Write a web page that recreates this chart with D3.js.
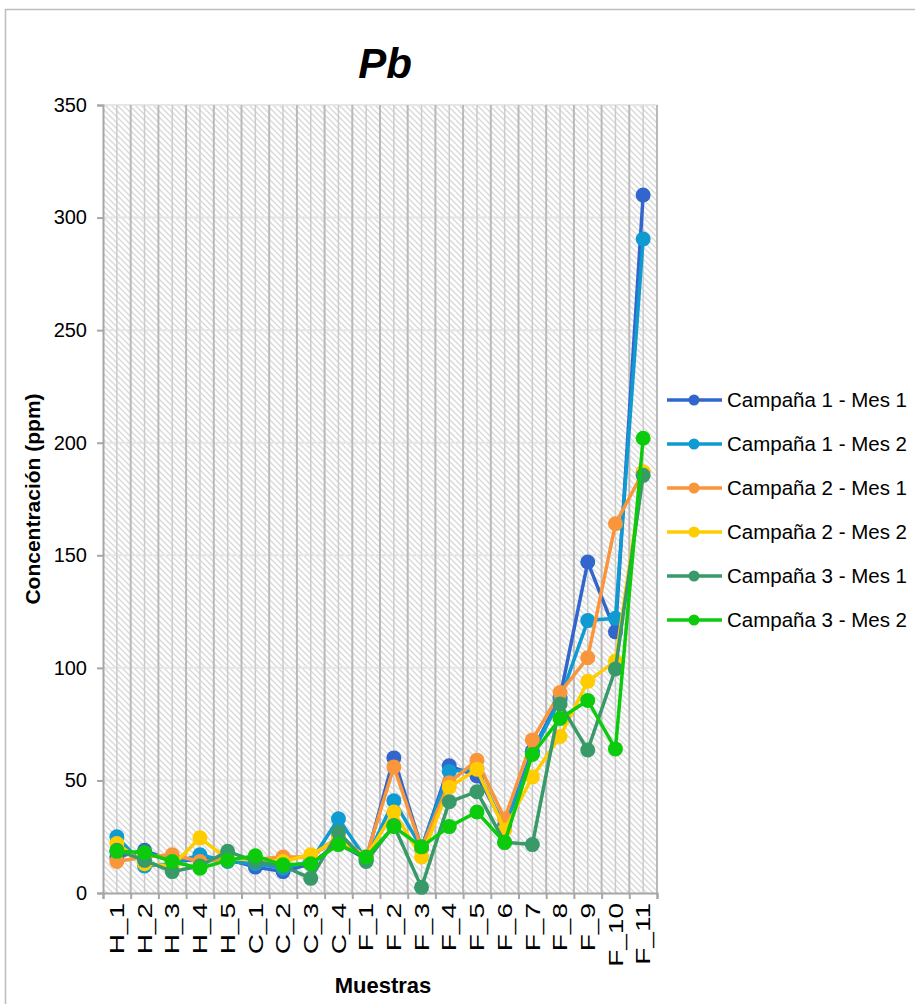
<!DOCTYPE html>
<html>
<head>
<meta charset="utf-8">
<script src="https://cdn.jsdelivr.net/npm/d3@7"></script>
<style>
  html, body { margin: 0; padding: 0; background: #fff; }
  svg { display: block; font-family: Arial, "Liberation Sans", sans-serif; }
</style>
</head>
<body>
<svg id="chart" width="915" height="1004"></svg>
<script>
// Sample sites along the x axis
const categories = ["H_1","H_2","H_3","H_4","H_5","C_1","C_2","C_3","C_4",
  "F_1","F_2","F_3","F_4","F_5","F_6","F_7","F_8","F_9","F_10","F_11"];

// Pb concentration (ppm) per campaign and month
const campana1Mes1 = [16, 19, 14, 15, 15, 11.5, 9.5, 13, 22, 15, 60, 20, 56.5, 52, 30, 63, 87, 147, 116, 310];
const campana1Mes2 = [25, 12, 13, 17, 14, 13, 11, 14, 33, 15, 41, 20, 54, 55, 29, 62, 86, 121, 122, 290.5];
const campana2Mes1 = [14, 16, 17, 14, 15, 15, 16, 16, 25, 16, 56, 20, 49, 59, 33, 68, 89, 104.5, 164, 187];
const campana2Mes2 = [22, 13, 12, 24.5, 15, 15, 14, 17, 24, 16, 36, 16, 47, 55, 28, 51.5, 69.5, 94, 103, 187];
const campana3Mes1 = [19, 14.5, 9.5, 12, 18.5, 14, 12, 6.5, 27, 14, 30, 2.5, 40.5, 45, 22.5, 21.5, 84, 63.5, 99.5, 185.5];
const campana3Mes2 = [18.5, 18, 14, 11, 14.5, 16.5, 12.5, 13, 21.5, 16, 29.5, 20.5, 29.5, 36, 22.5, 61.5, 77.5, 85.5, 64, 202];

const seriesNames = ["Campaña 1 - Mes 1","Campaña 1 - Mes 2","Campaña 2 - Mes 1",
  "Campaña 2 - Mes 2","Campaña 3 - Mes 1","Campaña 3 - Mes 2"];
const seriesColors = ["#3366cc","#0f9bd1","#f9963b","#ffcc00","#379a68","#0ccb0c"];
const seriesValues = [campana1Mes1, campana1Mes2, campana2Mes1, campana2Mes2, campana3Mes1, campana3Mes2];

const yTicks = [0, 50, 100, 150, 200, 250, 300, 350];

const svg = d3.select("#chart");
const plotLeft = 103, plotRight = 657, plotTop = 105, plotBottom = 893;

// outer frame
svg.append("rect").attr("x", 5.5).attr("y", 9.5).attr("width", 1000).attr("height", 1000)
  .attr("fill", "#fff").attr("stroke", "#bdbdbd").attr("stroke-width", 1.5);

// diagonal hatch for the plot area
const defs = svg.append("defs");
const pat = defs.append("pattern").attr("id", "hatch").attr("patternUnits", "userSpaceOnUse")
  .attr("width", 6).attr("height", 6);
pat.append("rect").attr("width", 6).attr("height", 6).attr("fill", "#fff");
pat.append("path").attr("d", "M-1,-1 L7,7 M-4,2 L2,8 M4,-2 L8,2")
  .attr("stroke", "#d9d9d9").attr("stroke-width", 1.4);

const x = d3.scaleBand().domain(categories).range([plotLeft, plotRight]);
const y = d3.scaleLinear().domain([0, 350]).range([plotBottom, plotTop]);
const idx = d3.scaleLinear().domain([0, categories.length]).range([plotLeft, plotRight]);

svg.append("rect").attr("x", plotLeft).attr("y", plotTop)
  .attr("width", plotRight - plotLeft).attr("height", plotBottom - plotTop)
  .attr("fill", "url(#hatch)");

// horizontal gridlines
svg.append("g").selectAll("line").data(yTicks.filter(d => d > 0)).join("line")
  .attr("x1", plotLeft).attr("x2", plotRight).attr("y1", d => y(d)).attr("y2", d => y(d))
  .attr("stroke", "#e6e6e6").attr("stroke-width", 2);

// vertical gridlines: category centres and boundaries
svg.append("g").selectAll("line").data(categories).join("line")
  .attr("x1", d => x(d) + x.bandwidth() / 2).attr("x2", d => x(d) + x.bandwidth() / 2)
  .attr("y1", plotTop).attr("y2", plotBottom).attr("stroke", "#cbcbcb").attr("stroke-width", 1.5);
svg.append("g").selectAll("line").data(d3.range(1, categories.length + 1)).join("line")
  .attr("x1", d => idx(d)).attr("x2", d => idx(d))
  .attr("y1", plotTop).attr("y2", plotBottom).attr("stroke", "#b9b9b9").attr("stroke-width", 2);

// y axis
const yAxis = svg.append("g").attr("transform", `translate(${plotLeft},0)`)
  .call(d3.axisLeft(y).tickValues(yTicks).tickSize(6).tickPadding(10));
yAxis.select(".domain").attr("stroke", "#a6a6a6").attr("stroke-width", 2);
yAxis.selectAll(".tick line").attr("stroke", "#a6a6a6").attr("stroke-width", 2);
yAxis.selectAll(".tick text").attr("font-size", 20).attr("fill", "#000")
  .style("font-family", "Arial, 'Liberation Sans', sans-serif");

// x axis: ticks at category boundaries
const xTickAxis = svg.append("g").attr("transform", `translate(0,${plotBottom})`)
  .call(d3.axisBottom(idx).tickValues(d3.range(0, categories.length + 1)).tickSize(6).tickFormat(""));
xTickAxis.select(".domain").attr("stroke", "#a6a6a6").attr("stroke-width", 2);
xTickAxis.selectAll(".tick line").attr("stroke", "#a6a6a6").attr("stroke-width", 2);

// x labels, rotated and drawn in a tall narrow face
const stretch = 1.4;
const xLab = svg.append("g").attr("transform", `translate(0,${plotBottom})`)
  .call(d3.axisBottom(x).tickSize(0).tickPadding(0));
xLab.select(".domain").remove();
xLab.selectAll(".tick text")
  .attr("transform", `rotate(-90) scale(${stretch},1)`)
  .attr("text-anchor", "end")
  .attr("x", -10 / stretch).attr("y", 0).attr("dy", "0.36em")
  .attr("font-size", 20).attr("fill", "#000")
  .style("font-family", "Arial, 'Liberation Sans', sans-serif");

// series lines and markers
const line = d3.line().x((d, i) => x(categories[i]) + x.bandwidth() / 2).y(d => y(d));
seriesValues.forEach((vals, s) => {
  const g = svg.append("g");
  g.append("path").datum(vals).attr("d", line).attr("fill", "none")
    .attr("stroke", seriesColors[s]).attr("stroke-width", 3.5).attr("stroke-linejoin", "round");
  g.selectAll("circle").data(vals).join("circle")
    .attr("cx", (d, i) => x(categories[i]) + x.bandwidth() / 2).attr("cy", d => y(d))
    .attr("r", 7.5).attr("fill", seriesColors[s]);
});

// title and axis titles
svg.append("text").attr("x", 385).attr("y", 78).attr("text-anchor", "middle")
  .attr("font-size", 42).attr("font-weight", "bold").attr("font-style", "italic").text("Pb");
svg.append("text").attr("x", 383).attr("y", 993).attr("text-anchor", "middle")
  .attr("font-size", 22).attr("font-weight", "bold").text("Muestras");
svg.append("text").attr("transform", `translate(40,${(plotTop + plotBottom) / 2}) rotate(-90)`)
  .attr("text-anchor", "middle").attr("font-size", 21).attr("font-weight", "bold")
  .text("Concentración (ppm)");

// legend
const legend = svg.append("g");
seriesNames.forEach((name, i) => {
  const ly = 400 + i * 44;
  legend.append("line").attr("x1", 667).attr("x2", 722).attr("y1", ly).attr("y2", ly)
    .attr("stroke", seriesColors[i]).attr("stroke-width", 3.5);
  legend.append("circle").attr("cx", 694).attr("cy", ly).attr("r", 5.5).attr("fill", seriesColors[i]);
  legend.append("text").attr("x", 727).attr("y", ly).attr("dy", "0.36em")
    .attr("font-size", 20.5).attr("fill", "#000").text(name);
});
</script>
</body>
</html>
